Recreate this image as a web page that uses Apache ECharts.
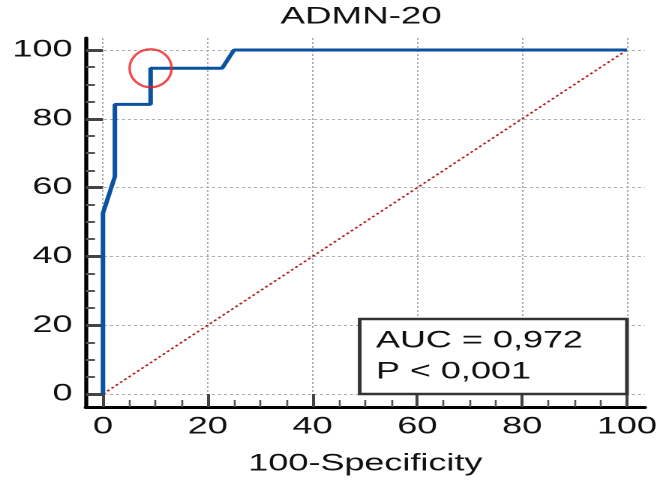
<!DOCTYPE html>
<html>
<head>
<meta charset="utf-8">
<script src="https://cdn.jsdelivr.net/npm/echarts@6/dist/echarts.min.js"></script>
<style>
  html, body { margin: 0; padding: 0; background: #fff; overflow: hidden; }
  /* the original picture is stretched sideways, so the chart is drawn narrow and widened */
  #chart { width: 441px; height: 483px; transform: scaleX(1.5); transform-origin: 0 0; }
</style>
</head>
<body>
<div id="chart"></div>
<script>
// ROC curve: 100-Specificity vs Sensitivity
var rocX = [0, 0, 2.27, 2.27, 9.09, 9.09, 22.73, 25, 100];
var rocY = [0, 52.6, 63.2, 84.2, 84.2, 94.7, 94.7, 100, 100];
var refX = [0, 100];
var refY = [0, 100];
var cutPoint = [9.09, 94.7];
var majorTicks = [0, 20, 40, 60, 80, 100];
var minorTicks = [5, 10, 15, 25, 30, 35, 45, 50, 55, 65, 70, 75, 85, 90, 95];
var statsText = ['AUC = 0,972', 'P < 0,001'];
var statsBox = [[49, 0], [100, 21.8]];

var font = 'Liberation Sans, Arial, sans-serif';

function zip(xs, ys) {
  return xs.map(function (x, i) { return [x, ys[i]]; });
}

var chart = echarts.init(document.getElementById('chart'), null, { devicePixelRatio: 2 });

function majorAxis(dim) {
  var isX = dim === 'x';
  return {
    type: 'value',
    position: isX ? 'bottom' : 'left',
    min: isX ? -3.25 : -3.78,
    max: isX ? 103.4 : 103.5,
    name: isX ? '100-Specificity' : '',
    nameLocation: 'middle',
    nameGap: 45,
    nameTextStyle: { fontFamily: font, fontSize: 24, color: '#111' },
    axisLine: { show: true, onZero: false, lineStyle: { color: '#000', width: isX ? 3 : 2.7 } },
    axisTick: {
      show: true, inside: true, customValues: majorTicks,
      length: isX ? 13 : 11.3,
      lineStyle: { color: '#444', width: isX ? 2 : 3 }
    },
    axisLabel: {
      show: true, customValues: majorTicks, margin: isX ? 8 : 9,
      fontFamily: font, fontSize: 24, color: '#111'
    },
    splitLine: { show: true, lineStyle: { color: '#aaa', type: [2, 2], width: 1 } }
  };
}

function minorAxis(dim) {
  var isX = dim === 'x';
  return {
    type: 'value',
    position: isX ? 'bottom' : 'left',
    min: isX ? -3.25 : -3.78,
    max: isX ? 103.4 : 103.5,
    axisLine: { show: false, onZero: false },
    axisTick: {
      show: true, inside: true, customValues: minorTicks,
      length: isX ? 7 : 6,
      lineStyle: { color: '#555', width: isX ? 1.3 : 2 }
    },
    axisLabel: { show: false },
    splitLine: { show: false }
  };
}

chart.setOption({
  animation: false,
  backgroundColor: '#fff',
  title: {
    text: 'ADMN-20',
    left: 187,
    top: 4,
    padding: 0,
    textStyle: { fontFamily: font, fontSize: 24.5, fontWeight: 'normal', color: '#111' }
  },
  grid: { left: 57.3, right: 11, top: 38, bottom: 76, containLabel: false },
  xAxis: [majorAxis('x'), minorAxis('x')],
  yAxis: [majorAxis('y'), minorAxis('y')],
  series: [
    {
      type: 'line',
      data: zip(refX, refY),
      showSymbol: false,
      symbol: 'none',
      lineStyle: { color: '#b22222', width: 1.5, type: [2, 2] },
      z: 2,
      markArea: {
        silent: true,
        itemStyle: { color: '#fff', borderColor: '#333', borderWidth: 2.5 },
        label: {
          show: true,
          position: 'insideLeft',
          distance: 12,
          formatter: statsText.join('\n'),
          fontFamily: font,
          fontSize: 24,
          lineHeight: 31,
          color: '#111'
        },
        data: [[{ coord: statsBox[0] }, { coord: statsBox[1] }]]
      }
    },
    {
      type: 'line',
      data: zip(rocX, rocY),
      showSymbol: false,
      symbol: 'none',
      lineStyle: { color: '#0b52a0', width: 3 },
      z: 3
    },
    {
      type: 'scatter',
      data: [cutPoint],
      symbol: 'circle',
      symbolSize: [28, 38],
      itemStyle: { color: 'rgba(0,0,0,0)', borderColor: '#e82020', borderWidth: 2 },
      z: 4
    }
  ]
});
</script>
</body>
</html>
